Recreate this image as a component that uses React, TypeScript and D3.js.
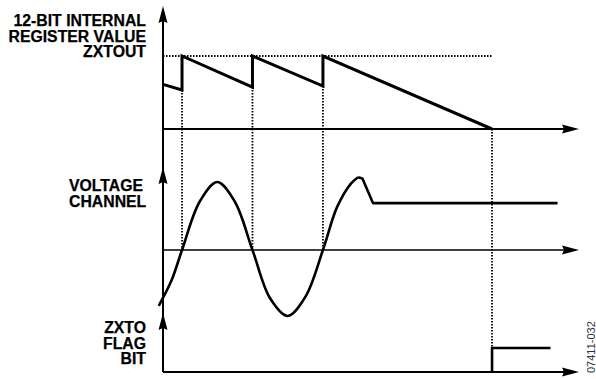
import React from "react";
import * as d3 from "d3";

// time axis in ms (zero crossing of the voltage = 0)
const timeDomain = [-2.7, 56.2];
const zeroCrossings = [0, 10, 20];
const timeoutTime = 44;
const zxtout = 4095;

// 12-bit internal register value (time, value)
const registerT = [-2.7, 0, 0, 10, 10, 20, 20, 44];
const registerV = [2500, 2190, 4095, 2350, 4095, 2410, 4095, 0];

// voltage channel, smooth part (time, normalized amplitude)
const voltSineT = [-3.3, -1.5, 0, 2.5, 5, 7.5, 10, 12.5, 15, 17.5, 20, 22, 24, 25.0];
const voltSineV = [-0.82, -0.45, 0, 0.71, 1.0, 0.71, 0, -0.71, -0.97, -0.69, 0, 0.63, 0.98, 1.07];
// voltage channel, after the drop
const voltTailT = [25.0, 25.6, 27.1, 53.3];
const voltTailV = [1.07, 1.05, 0.69, 0.69];

// ZXTO flag bit
const flagT = [44, 44, 52.3];
const flagV = [0, 1, 1];

const regLabel = ["12-BIT INTERNAL", "REGISTER VALUE", "ZXTOUT"];
const voltLabel = ["VOLTAGE", "CHANNEL"];
const flagLabel = ["ZXTO", "FLAG", "BIT"];
const figId = "07411-032";

export default function App() {
  const W = 596, H = 379;
  const axisX = 163;
  const arrowEnd = 579;
  const x = d3.scaleLinear().domain(timeDomain).range([axisX, 578]);
  const yReg = d3.scaleLinear().domain([0, zxtout]).range([129, 56]);
  const yVolt = d3.scaleLinear().domain([-1, 1]).range([318, 182]);
  const yFlag = d3.scaleLinear().domain([0, 1]).range([372, 348]);

  const lin = d3.line<[number, number]>().curve(d3.curveLinear);
  const regPath = d3
    .line<number>()
    .x((_, i) => x(registerT[i]))
    .y((_, i) => yReg(registerV[i]))(registerT.map((t) => t))!;
  const sinePath = d3
    .line<number>()
    .curve(d3.curveCatmullRom.alpha(0.5))
    .x((_, i) => x(voltSineT[i]))
    .y((_, i) => yVolt(voltSineV[i]))(voltSineT)!;
  const tailPath = d3
    .line<number>()
    .curve(d3.curveLinear)
    .x((_, i) => x(voltTailT[i]))
    .y((_, i) => yVolt(voltTailV[i]))(voltTailT)!;
  const flagPath = d3
    .line<number>()
    .x((_, i) => x(flagT[i]))
    .y((_, i) => yFlag(flagV[i]))(flagT)!;

  const upArrow = (tipY: number) =>
    `M${axisX},${tipY} L${axisX - 4.5},${tipY + 17} L${axisX},${tipY + 15} L${axisX + 4.5},${tipY + 17} Z`;
  const rightArrow = (y: number) =>
    `M${arrowEnd},${y} L${arrowEnd - 17},${y - 4.5} L${arrowEnd - 15},${y} L${arrowEnd - 17},${y + 4.5} Z`;

  const yZeroReg = yReg(0);
  const yZeroVolt = yVolt(0);
  const yZeroFlag = yFlag(0);

  const font = "'Liberation Sans', Arial, Helvetica, sans-serif";
  const dotted = { stroke: "#000", strokeWidth: 1.8, strokeDasharray: "1.5,1.5", fill: "none" };

  return (
    <svg width={W} height={H} style={{ position: "absolute", left: 0, top: 0, background: "#fff" }}>
      <rect x={0} y={0} width={W} height={H} fill="#fff" />
      {/* ZXTOUT level */}
      <path d={lin([[axisX, yReg(zxtout)], [x(timeoutTime), yReg(zxtout)]])!} {...dotted} />
      {/* vertical dotted markers at zero crossings */}
      {zeroCrossings.map((t, i) => {
        const lowVal = registerV[registerT.indexOf(t)];
        return (
          <path key={i} d={lin([[x(t), yReg(lowVal)], [x(t), yZeroVolt]])!} {...dotted} />
        );
      })}
      <path d={lin([[x(timeoutTime), yZeroReg], [x(timeoutTime), yFlag(1)]])!} {...dotted} />

      {/* axes */}
      <path d={lin([[axisX, 12], [axisX, yZeroFlag]])!} stroke="#000" strokeWidth={2} fill="none" />
      <path d={upArrow(6)} fill="#000" />
      <path d={upArrow(167)} fill="#000" />
      <path d={upArrow(313)} fill="#000" />
      <path d={lin([[axisX, yZeroReg], [arrowEnd - 10, yZeroReg]])!} stroke="#000" strokeWidth={2.2} fill="none" />
      <path d={rightArrow(yZeroReg)} fill="#000" />
      <path d={lin([[axisX, yZeroVolt], [arrowEnd - 10, yZeroVolt]])!} stroke="#000" strokeWidth={1.6} fill="none" />
      <path d={rightArrow(yZeroVolt)} fill="#000" />
      <path d={lin([[axisX, yZeroFlag], [arrowEnd - 10, yZeroFlag]])!} stroke="#000" strokeWidth={2.2} fill="none" />
      <path d={rightArrow(yZeroFlag)} fill="#000" />

      {/* signals */}
      <path d={regPath} stroke="#000" strokeWidth={3} fill="none" strokeLinejoin="miter" />
      <path d={sinePath} stroke="#000" strokeWidth={2.6} fill="none" strokeLinecap="butt" />
      <path d={tailPath} stroke="#000" strokeWidth={2.6} fill="none" strokeLinejoin="round" />
      <path d={flagPath} stroke="#000" strokeWidth={2.6} fill="none" strokeLinejoin="miter" />

      {/* labels */}
      <g fontFamily={font} fontWeight="bold" fontSize={15.8} fill="#000" stroke="#000" strokeWidth={0.25}>
        {regLabel.map((s, i) => (
          <text key={s} x={146} y={26 + i * 15.5} textAnchor="end">{s}</text>
        ))}
        {voltLabel.map((s, i) => (
          <text key={s} x={69} y={191 + i * 15.6} textAnchor="start">{s}</text>
        ))}
        {flagLabel.map((s, i) => (
          <text key={s} x={146} y={333 + i * 15.5} textAnchor="end">{s}</text>
        ))}
      </g>
      <text
        x={0}
        y={0}
        transform="translate(595,373) rotate(-90)"
        fontFamily={font}
        fontSize={11}
        fill="#333"
      >
        {figId}
      </text>
    </svg>
  );
}
